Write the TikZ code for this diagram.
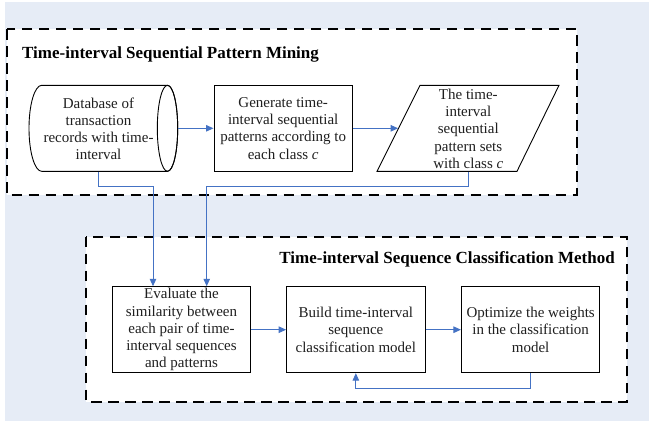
\documentclass[tikz,border=0pt]{standalone}
\usepackage{fontspec}
\setmainfont{Liberation Serif}
\usetikzlibrary{arrows.meta}
\definecolor{bgblue}{RGB}{230,236,246}
\definecolor{flowblue}{RGB}{68,114,196}
\tikzset{
  frame/.style={draw=black, line width=2bp, dash pattern=on 10.5bp off 6.5bp, fill=white},
  stepbox/.style={draw=black, line width=0.9bp, fill=white, minimum width=138.5bp, minimum height=86bp, inner sep=0pt, align=center, font=\fontsize{15bp}{17.3bp}\selectfont, text=black!88},
  plaintext/.style={inner sep=0pt, align=center, font=\fontsize{15bp}{17.3bp}\selectfont, text=black!88},
  shapeline/.style={draw=black, line width=0.9bp, fill=white},
  ghost/.style={draw=none, inner sep=0pt},
  titletext/.style={inner sep=0pt, font=\fontsize{17bp}{20bp}\selectfont\bfseries, text=black},
  flow/.style={draw=flowblue, line width=1bp, -{Triangle[length=7.5bp,width=6.5bp]}},
  flowline/.style={draw=flowblue, line width=1bp}
}
\begin{document}
\begin{tikzpicture}[x=1bp,y=-1bp]
\useasboundingbox (0,0) rectangle (649,421);
\fill[bgblue] (5,2) rectangle (649,421);

% frames
\draw[frame] (7,29) rectangle (576.7,194.5);
\draw[frame] (86,236.7) rectangle (626.7,401.7);

\node[titletext, anchor=base west] (t1) at (22,58.3) {Time-interval Sequential Pattern Mining};
\node[titletext, anchor=base east] (t2) at (615,263.8) {Time-interval Sequence Classification Method};

% database cylinder
\filldraw[shapeline] (41.7,85.3) -- (167.5,85.3)
   arc[start angle=-90, end angle=90, x radius=10.2, y radius=43]
   -- (41.7,171.3)
   arc[start angle=90, end angle=270, x radius=12.7, y radius=43] -- cycle;
\draw[shapeline, fill=none] (167.5,128.3) ellipse [x radius=10.2, y radius=43];
\node[ghost, minimum width=148.7bp, minimum height=86bp] (db) at (103.35,128.3) {};
\node[plaintext] (dbt) at (98.5,128.8) {Database of\\transaction\\records with time-\\interval};

% generate
\node[stepbox] (gen) at (283.2,128.3) {Generate time-\\interval sequential\\patterns according to\\each class \textit{c}};

% parallelogram
\filldraw[shapeline] (420,85.3) -- (559,85.3) -- (517,171.3) -- (377,171.3) -- cycle;
\node[ghost, minimum width=140bp, minimum height=86bp] (para) at (468.3,128.3) {};
\node[plaintext] (parat) at (468.3,128.8) {The time-\\interval\\sequential\\pattern sets\\with class \textit{c}};

% bottom row
\node[stepbox] (eval) at (181.5,329.7) {Evaluate the\\similarity between\\each pair of time-\\interval sequences\\and patterns};
\node[stepbox] (build) at (355.85,329.7) {Build time-interval\\sequence\\classification model};
\node[stepbox] (opt) at (530.65,329.7) {Optimize the weights\\in the classification\\model};

% connectors
\coordinate (j1) at (153,186.3);
\coordinate (j2) at (206.7,186.3);
\draw[flow] (db.east) -- (gen.west);
\draw[flow] (gen.east) -- (para.west);
\draw[flow] (dbt.center |- db.south) |- (j1) -- (j1 |- eval.north);
\draw[flow] (para.south) |- (j2) -- (j2 |- eval.north);
\draw[flow] (eval.east) -- (build.west);
\draw[flow] (build.east) -- (opt.west);
\draw[flow] (opt.south) -- ++(0,15.6) -| (build.south);
\end{tikzpicture}
\end{document}
